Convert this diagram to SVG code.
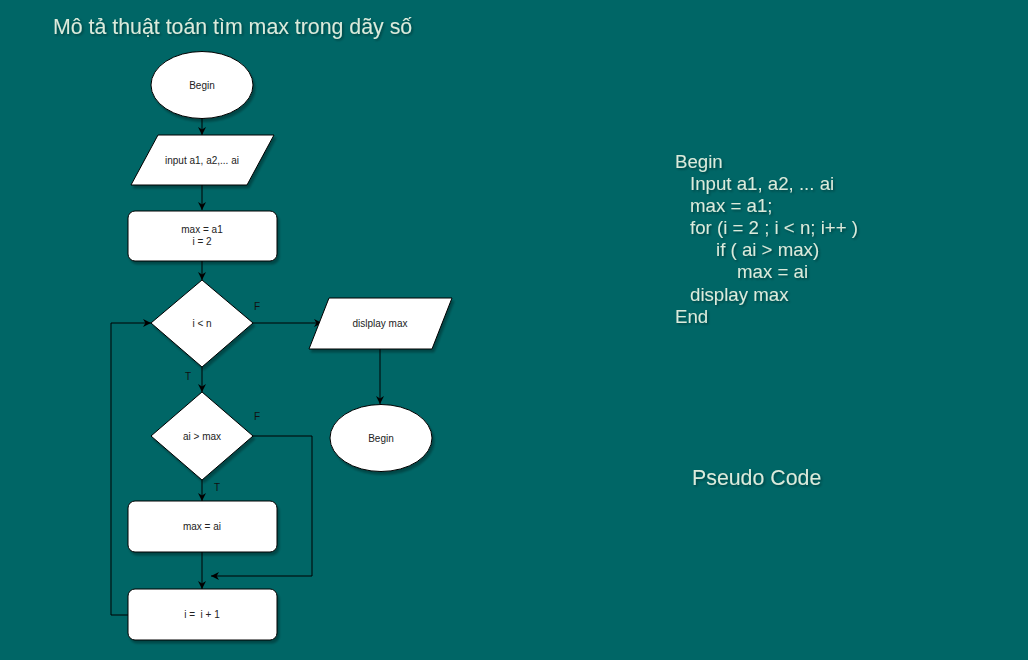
<svg xmlns="http://www.w3.org/2000/svg" width="1028" height="660" viewBox="0 0 1028 660">
<defs>
<style>
.node{fill:#ffffff;stroke:#000000;stroke-width:1}
.nt{font-family:"Liberation Sans",Arial,sans-serif;font-size:10px;fill:#222222;text-anchor:middle}
.lbl{font-family:"Liberation Sans",Arial,sans-serif;font-size:10px;fill:#111111}
.edge{fill:none;stroke:#000000;stroke-width:1}
.ttl{font-family:"Liberation Sans",Arial,sans-serif;fill:#dceadb}
</style>
<filter id="sh" x="-20%" y="-20%" width="150%" height="150%">
<feDropShadow dx="2" dy="3" stdDeviation="1.2" flood-color="#000000" flood-opacity="0.3"/>
</filter>
<filter id="tsh" x="-5%" y="-20%" width="110%" height="160%">
<feDropShadow dx="1.5" dy="1.5" stdDeviation="0.8" flood-color="#000000" flood-opacity="0.35"/>
</filter>
<marker id="arr" viewBox="0 0 10 10" refX="10" refY="5" markerWidth="8" markerHeight="8" markerUnits="userSpaceOnUse" orient="auto">
<path d="M0,0 L10,5 L0,10 L3,5 Z" fill="#000000"/>
</marker>
</defs>
<rect x="0" y="0" width="1028" height="660" fill="#006666"/>

<g id="title" filter="url(#tsh)">
<text class="ttl" x="53" y="34" font-size="21.33">Mô tả thuật toán tìm max trong dãy số</text>
</g>

<g id="connectors">
<path class="edge" d="M202,118 L202,135" marker-end="url(#arr)"/>
<path class="edge" d="M202,185 L202,210" marker-end="url(#arr)"/>
<path class="edge" d="M202,261 L202,280" marker-end="url(#arr)"/>
<path class="edge" d="M253,323 L322,323" marker-end="url(#arr)"/>
<path class="edge" d="M380,349 L380,404" marker-end="url(#arr)"/>
<path class="edge" d="M202,367 L202,392" marker-end="url(#arr)"/>
<path class="edge" d="M253,436 L312,436 L312,576 L211,576" marker-end="url(#arr)"/>
<path class="edge" d="M202,480 L202,501" marker-end="url(#arr)"/>
<path class="edge" d="M202,552 L202,589" marker-end="url(#arr)"/>
<path class="edge" d="M128,615 L111,615 L111,323 L151,323" marker-end="url(#arr)"/>
<text class="lbl" x="254" y="310">F</text>
<text class="lbl" x="185" y="380">T</text>
<text class="lbl" x="254" y="420">F</text>
<text class="lbl" x="214" y="491">T</text>
</g>

<g id="begin">
<ellipse class="node" filter="url(#sh)" cx="202" cy="85" rx="51" ry="33.5"/>
<text class="nt" x="202" y="88.5">Begin</text>
</g>

<g id="input">
<polygon class="node" filter="url(#sh)" points="158,135 274,135 247,185 131,185"/>
<text class="nt" x="202" y="163.5">input a1, a2,... ai</text>
</g>

<g id="init">
<rect class="node" filter="url(#sh)" x="128" y="211" width="149" height="50" rx="7"/>
<text class="nt" x="202" y="233">max = a1</text>
<text class="nt" x="202" y="245">i = 2</text>
</g>

<g id="cond1">
<polygon class="node" filter="url(#sh)" points="202,280 253,323 202,367 151,323"/>
<text class="nt" x="202" y="326.5">i &lt; n</text>
</g>

<g id="display">
<polygon class="node" filter="url(#sh)" points="329,298 452,298 432,349 309,349"/>
<text class="nt" x="380" y="326.5">dislplay max</text>
</g>

<g id="end">
<ellipse class="node" filter="url(#sh)" cx="381" cy="438" rx="51" ry="33.5"/>
<text class="nt" x="381" y="441.5">Begin</text>
</g>

<g id="cond2">
<polygon class="node" filter="url(#sh)" points="202,392 253,436 202,480 151,436"/>
<text class="nt" x="202" y="439.5">ai &gt; max</text>
</g>

<g id="assign">
<rect class="node" filter="url(#sh)" x="128" y="501" width="149" height="51" rx="7"/>
<text class="nt" x="202" y="530">max = ai</text>
</g>

<g id="incr">
<rect class="node" filter="url(#sh)" x="128" y="589" width="149" height="51" rx="7"/>
<text class="nt" x="202" y="618" xml:space="preserve">i =  i + 1</text>
</g>

<g id="pseudocode" filter="url(#tsh)">
<text class="ttl" font-size="18.67" xml:space="preserve">
<tspan x="675" y="168">Begin</tspan>
<tspan x="690" y="190">Input a1, a2, ... ai</tspan>
<tspan x="690" y="212">max = a1;</tspan>
<tspan x="690" y="234">for (i = 2 ; i &lt; n; i++ )</tspan>
<tspan x="716" y="256">if ( ai &gt; max)</tspan>
<tspan x="737" y="278">max = ai</tspan>
<tspan x="690" y="301">display max</tspan>
<tspan x="675" y="323">End</tspan>
</text>
</g>

<g id="pseudo-label" filter="url(#tsh)">
<text class="ttl" x="692" y="485" font-size="21.33">Pseudo Code</text>
</g>
</svg>
